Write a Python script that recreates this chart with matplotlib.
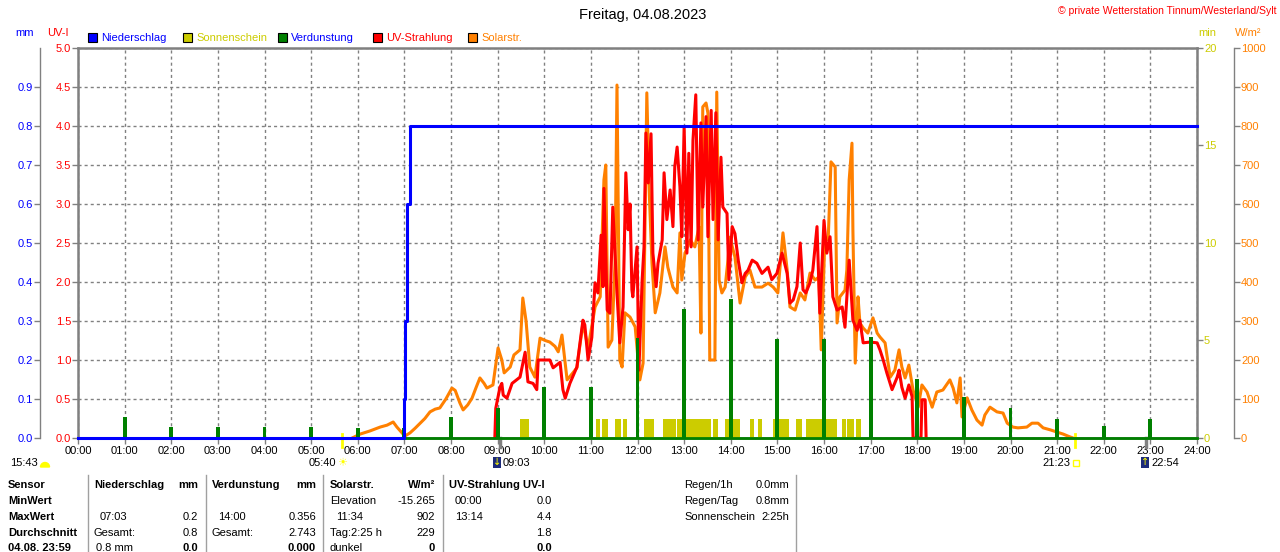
import matplotlib
matplotlib.use("Agg")
import matplotlib.pyplot as plt
from matplotlib.patches import Rectangle, Wedge

plt.rcParams['font.family'] = ['Liberation Sans', 'DejaVu Sans']

W, H = 1280, 552

# --- Solarstrahlung (W/m2), Zeit in Stunden
solar_t = [5.88, 6.05, 6.26, 6.48, 6.63, 6.76, 6.84, 6.95, 7.01, 7.12,
           7.23, 7.34, 7.44, 7.55, 7.66, 7.76, 7.89, 8.02, 8.09, 8.19,
           8.26, 8.36, 8.45, 8.54, 8.62, 8.71, 8.77, 8.90, 9.01, 9.09,
           9.14, 9.27, 9.35, 9.48, 9.54, 9.61, 9.69, 9.80, 9.91, 10.02,
           10.12, 10.23, 10.30, 10.38, 10.49, 10.60, 10.70, 10.83, 10.94, 11.09,
           11.20, 11.28, 11.32, 11.37, 11.45, 11.52, 11.56, 11.62, 11.67, 11.73,
           11.84, 11.95, 12.05, 12.12, 12.20, 12.25, 12.31, 12.38, 12.48, 12.59,
           12.65, 12.76, 12.85, 12.91, 12.95, 13.02, 13.13, 13.23, 13.32, 13.36,
           13.40, 13.47, 13.51, 13.55, 13.66, 13.70, 13.75, 13.81, 13.88, 13.94,
           13.98, 14.09, 14.20, 14.31, 14.41, 14.52, 14.67, 14.80, 14.91, 15.01,
           15.12, 15.21, 15.27, 15.38, 15.49, 15.59, 15.70, 15.81, 15.89, 15.94,
           16.02, 16.09, 16.15, 16.24, 16.28, 16.34, 16.45, 16.49, 16.54, 16.60,
           16.62, 16.67, 16.73, 16.77, 16.84, 16.94, 17.05, 17.14, 17.20, 17.31,
           17.42, 17.52, 17.61, 17.67, 17.74, 17.82, 17.91, 18.02, 18.10, 18.21,
           18.32, 18.42, 18.55, 18.70, 18.77, 18.85, 18.92, 18.96, 19.07, 19.17,
           19.28, 19.39, 19.45, 19.56, 19.71, 19.84, 19.93, 20.05, 20.16, 20.35,
           20.46, 20.59, 20.70, 20.85, 21.00, 21.13, 21.23, 21.34]
solar_w = [0, 10, 18, 28, 33, 41, 28, 13, 5, 13,
           25, 38, 50, 67, 74, 77, 100, 128, 122, 90,
           72, 85, 102, 130, 154, 140, 128, 136, 231, 200,
           167, 182, 213, 226, 359, 300, 182, 156, 256, 250,
           246, 235, 221, 264, 149, 165, 180, 295, 230, 336,
           362, 662, 700, 233, 251, 456, 905, 200, 182, 321,
           310, 285, 149, 192, 885, 636, 449, 321, 372, 490,
           438, 387, 372, 526, 405, 474, 508, 490, 541, 269,
           849, 859, 833, 200, 200, 887, 405, 372, 387, 456,
           515, 464, 346, 413, 431, 387, 387, 397, 387, 372,
           526, 431, 336, 328, 372, 354, 423, 405, 413, 226,
           515, 508, 708, 695, 295, 362, 379, 431, 662, 756,
           533, 192, 362, 295, 282, 269, 308, 269, 259, 244,
           156, 174, 226, 182, 154, 187, 123, 79, 136, 118,
           79, 118, 123, 149, 128, 90, 154, 54, 103, 72,
           46, 33, 59, 79, 67, 64, 38, 28, 26, 28,
           38, 38, 26, 21, 15, 10, 5, 0]

# --- UV-Strahlung (UV-I)
uv_t = [8.94, 8.96, 9.05, 9.09, 9.12, 9.20, 9.31, 9.48, 9.59, 9.65,
        9.76, 9.84, 9.87, 10.02, 10.12, 10.19, 10.34, 10.40, 10.45, 10.55,
        10.70, 10.83, 10.87, 10.94, 11.02, 11.09, 11.15, 11.22, 11.26, 11.28,
        11.35, 11.41, 11.47, 11.56, 11.62, 11.69, 11.75, 11.80, 11.84, 11.88,
        11.90, 11.99, 12.03, 12.10, 12.14, 12.18, 12.23, 12.29, 12.33, 12.40,
        12.44, 12.53, 12.57, 12.63, 12.70, 12.76, 12.80, 12.85, 12.91, 12.95,
        13.00, 13.06, 13.10, 13.15, 13.19, 13.25, 13.30, 13.36, 13.40, 13.47,
        13.51, 13.58, 13.62, 13.68, 13.73, 13.79, 13.83, 13.92, 13.96, 14.03,
        14.09, 14.16, 14.24, 14.31, 14.37, 14.46, 14.56, 14.67, 14.80, 14.88,
        14.99, 15.10, 15.21, 15.27, 15.34, 15.42, 15.49, 15.55, 15.61, 15.70,
        15.76, 15.85, 15.91, 16.00, 16.06, 16.13, 16.19, 16.28, 16.39, 16.45,
        16.54, 16.62, 16.71, 16.77, 16.84, 16.99, 17.14, 17.20, 17.27, 17.35,
        17.46, 17.57, 17.61, 17.67, 17.74, 17.82, 17.89, 17.91, 18.08, 18.10,
        18.17, 18.19]
uv_i = [0.0, 0.38, 0.65, 0.70, 0.55, 0.51, 0.70, 0.78, 1.10, 0.72,
        0.70, 0.62, 1.00, 1.00, 1.00, 0.90, 0.97, 0.62, 0.51, 0.70,
        0.91, 1.51, 1.45, 1.00, 1.29, 1.99, 1.86, 2.60, 1.94, 3.20,
        1.64, 1.60, 2.96, 1.86, 1.22, 1.68, 3.40, 2.67, 3.00, 1.90,
        1.81, 2.45, 0.87, 2.03, 2.45, 3.91, 3.27, 3.90, 2.37, 1.94,
        2.24, 2.54, 3.40, 2.80, 3.18, 2.71, 3.48, 3.73, 3.22, 2.58,
        3.99, 2.37, 3.65, 2.45, 3.82, 4.40, 2.54, 4.04, 2.96, 4.12,
        2.58, 4.20, 2.80, 4.17, 2.54, 3.60, 2.96, 2.88, 2.03, 2.71,
        2.62, 2.28, 1.99, 2.11, 2.15, 2.28, 2.24, 2.11, 2.19, 2.03,
        2.11, 2.37, 2.11, 1.73, 1.77, 1.94, 2.50, 1.90, 1.86, 1.99,
        2.15, 2.71, 1.60, 2.79, 2.37, 2.58, 1.81, 1.64, 1.68, 1.42,
        2.28, 1.51, 1.38, 1.51, 1.22, 1.23, 1.22, 1.13, 1.00, 0.83,
        0.62, 0.78, 0.87, 0.65, 0.51, 0.68, 0.53, 0.0, 0.0, 0.49,
        0.49, 0.0]

# --- Niederschlag kumuliert (mm)
rain_t = [0.0, 6.99, 7.01, 7.05, 7.12, 24.0]
rain_mm = [0.0, 0.1, 0.3, 0.6, 0.8, 0.8]

# --- Verdunstung je Stunde (mm)
evap_h = [1, 2, 3, 4, 5, 6, 7, 8, 9, 10, 11, 12,
          13, 14, 15, 16, 17, 18, 19, 20, 21, 22, 23]
evap_mm = [0.054, 0.028, 0.028, 0.028, 0.028, 0.026, 0.026, 0.054, 0.077, 0.13, 0.13, 0.256,
           0.33, 0.356, 0.254, 0.254, 0.26, 0.15, 0.105, 0.077, 0.05, 0.03, 0.05]

# --- Sonnenschein (Intervalle, 1 min)
sun_start = [9.48, 11.11, 11.24, 11.52, 11.69, 12.14, 12.55, 12.85, 13.62,
             13.88, 14.41, 14.58, 14.91, 15.40, 15.61, 16.39, 16.49, 16.69]
sun_end = [9.67, 11.20, 11.37, 11.65, 11.78, 12.35, 12.83, 13.58, 13.73,
           14.20, 14.50, 14.67, 15.25, 15.53, 16.28, 16.47, 16.64, 16.79]
sun_min = 1

sunrise, sunset = 5 + 40 / 60, 21 + 23 / 60
moonrise, moonset = 9 + 3 / 60, 22 + 54 / 60

hours = list(range(25))
hour_labels = ['%02d:00' % h for h in hours]
uv_ticks = [i * 0.5 for i in range(11)]
mm_ticks = [i / 10 for i in range(10)]
min_ticks = [0, 5, 10, 15, 20]
w_ticks = list(range(0, 1001, 100))

legend_items = [('Niederschlag', '#0000FF', '#0000FF'),
                ('Sonnenschein', '#CCCC00', '#CCCC00'),
                ('Verdunstung', '#008000', '#0000FF'),
                ('UV-Strahlung', '#FF0000', '#FF0000'),
                ('Solarstr.', '#FF8000', '#FF8000')]

# table: (x, row, text, ha, bold)
table = [
    (8, 0, 'Sensor', 'left', True), (8, 1, 'MinWert', 'left', True),
    (8, 2, 'MaxWert', 'left', True), (8, 3, 'Durchschnitt', 'left', True),
    (8, 4, '04.08. 23:59', 'left', True),
    (94, 0, 'Niederschlag', 'left', True), (198, 0, 'mm', 'right', True),
    (100, 2, '07:03', 'left', False), (198, 2, '0.2', 'right', False),
    (94, 3, 'Gesamt:', 'left', False), (198, 3, '0.8', 'right', False),
    (96, 4, '0.8 mm', 'left', False), (198, 4, '0.0', 'right', True),
    (212, 0, 'Verdunstung', 'left', True), (316, 0, 'mm', 'right', True),
    (218, 2, '14:00', 'left', False), (316, 2, '0.356', 'right', False),
    (212, 3, 'Gesamt:', 'left', False), (316, 3, '2.743', 'right', False),
    (316, 4, '0.000', 'right', True),
    (330, 0, 'Solarstr.', 'left', True), (435, 0, 'W/m²', 'right', True),
    (330, 1, 'Elevation', 'left', False), (435, 1, '-15.265', 'right', False),
    (336, 2, '11:34', 'left', False), (435, 2, '902', 'right', False),
    (330, 3, 'Tag:2:25 h', 'left', False), (435, 3, '229', 'right', False),
    (330, 4, 'dunkel', 'left', False), (435, 4, '0', 'right', True),
    (449, 0, 'UV-Strahlung UV-I', 'left', True),
    (455, 1, '00:00', 'left', False), (552, 1, '0.0', 'right', False),
    (455, 2, '13:14', 'left', False), (552, 2, '4.4', 'right', False),
    (552, 3, '1.8', 'right', False), (552, 4, '0.0', 'right', True),
    (684, 0, 'Regen/1h', 'left', False), (789, 0, '0.0mm', 'right', False),
    (684, 1, 'Regen/Tag', 'left', False), (789, 1, '0.8mm', 'right', False),
    (684, 2, 'Sonnenschein', 'left', False), (789, 2, '2:25h', 'right', False),
]
row_y = [485, 501, 517, 533, 548]
separators = [88, 206, 323, 443, 796]

GRAY = '#808080'
FS = 8

fig = plt.figure(figsize=(W / 100, H / 100), dpi=100)
ax = fig.add_axes([78 / W, (H - 438) / H, 1119 / W, 390 / H])
ax_uv = ax.twinx()
ax_min = ax.twinx()
ax_mm = ax.twinx()

ax.set_xlim(0, 24)
ax.set_ylim(0, 1000)
ax_uv.set_ylim(0, 5)
ax_min.set_ylim(0, 20)
ax_mm.set_ylim(0, 1)

# base axis: solar, outer right scale
ax.yaxis.tick_right()
ax.set_yticks(w_ticks)
ax.set_yticklabels([str(v) for v in w_ticks])
ax.spines['right'].set_position(('axes', 1156 / 1119))
ax.spines['right'].set_color(GRAY)
ax.spines['right'].set_linewidth(1)
for s in ['left', 'top', 'bottom']:
    ax.spines[s].set_color(GRAY)
    ax.spines[s].set_linewidth(1.8)
ax.tick_params(axis='y', colors=GRAY, labelcolor='#FF8000', labelsize=FS,
               length=4, width=1, pad=1)
ax.set_xticks(hours)
ax.set_xticklabels(hour_labels)
ax.tick_params(axis='x', colors=GRAY, labelcolor='black', labelsize=FS,
               length=4, width=1, pad=2)
ax.grid(True, color=GRAY, linestyle=(0, (2.2, 2.2)), linewidth=1)

ax_uv.yaxis.tick_left()
ax_uv.set_yticks(uv_ticks)
ax_uv.set_yticklabels(['%.1f' % v for v in uv_ticks])
ax_uv.tick_params(axis='y', colors=GRAY, labelcolor='#FF0000', labelsize=FS,
                  length=4, width=1, pad=1)

ax_min.set_yticks(min_ticks)
ax_min.set_yticklabels([str(v) for v in min_ticks])
ax_min.tick_params(axis='y', colors=GRAY, labelcolor='#CCCC00', labelsize=FS,
                   length=4, width=1, pad=1)

ax_mm.yaxis.tick_left()
ax_mm.set_yticks(mm_ticks)
ax_mm.set_yticklabels(['%.1f' % v for v in mm_ticks])
ax_mm.tick_params(axis='y', colors=GRAY, labelcolor='#0000FF', labelsize=FS,
                  length=4, width=1, pad=1)

for a in (ax_uv, ax_min, ax_mm):
    for s in a.spines.values():
        s.set_visible(False)
ax_min.spines['right'].set_visible(True)
ax_min.spines['right'].set_color(GRAY)
ax_min.spines['right'].set_linewidth(1.8)
ax_mm.spines['left'].set_visible(True)
ax_mm.spines['left'].set_position(('axes', -38 / 1119))
ax_mm.spines['left'].set_color(GRAY)
ax_mm.spines['left'].set_linewidth(1)

# series
ax.plot(solar_t, solar_w, color='#FF8000', lw=2.2)
ax_uv.plot(uv_t, uv_i, color='#FF0000', lw=2.2)
ax_min.bar(sun_start, [sun_min] * len(sun_start),
           width=[e - s for s, e in zip(sun_start, sun_end)],
           align='edge', color='#CCCC00', linewidth=0)
ax_mm.axhline(0, color='#008000', lw=2, clip_on=False)
ax_mm.bar(evap_h, evap_mm, width=0.085, color='#008000', linewidth=0)
ax_mm.plot(rain_t, rain_mm, drawstyle='steps-post', color='#0000FF', lw=2.2,
           clip_on=False)

# sun / moon markers under the axis
xt = ax.get_xaxis_transform()
for t in (sunrise, sunset):
    ax.plot([t, t], [-0.022, 0.01], color='#FFFF00', lw=2, transform=xt, clip_on=False)
for t in (moonrise, moonset):
    ax.plot([t, t], [-0.022, 0.0], color=GRAY, lw=2.5, transform=xt, clip_on=False)

# overlay in pixel coordinates
ov = fig.add_axes([0, 0, 1, 1])
ov.set_xlim(0, W)
ov.set_ylim(H, 0)
ov.axis('off')

ov.text(643, 15, 'Freitag, 04.08.2023', ha='center', va='center', fontsize=10.5)
ov.text(1276, 11, '© private Wetterstation Tinnum/Westerland/Sylt', ha='right',
        va='center', fontsize=7.5, color='#FF0000')
ov.text(15, 33, 'mm', color='#0000FF', fontsize=FS, va='center')
ov.text(47, 33, 'UV-I', color='#FF0000', fontsize=FS, va='center')
ov.text(1198, 33, 'min', color='#CCCC00', fontsize=FS, va='center')
ov.text(1235, 33, 'W/m²', color='#FF8000', fontsize=FS, va='center')

lx = [88, 183, 278, 373, 468]
for x0, (lab, face, tc) in zip(lx, legend_items):
    ov.add_patch(Rectangle((x0, 33), 9, 9, facecolor=face, edgecolor='black', lw=0.8))
    ov.text(x0 + 13, 38, lab, color=tc, fontsize=FS, va='center')

# day length, sunrise/sunset, moon rise/set
ov.text(10, 463, '15:43', fontsize=FS, va='center')
ov.add_patch(Wedge((45, 467), 4.5, 180, 360, color='#FFFF00'))
ov.text(336, 463, '05:40', fontsize=FS, va='center', ha='right')
ov.text(342, 463, '\u2600', fontsize=8, va='center', ha='center',
        color='#FFFF00', family='DejaVu Sans')
ov.add_patch(Rectangle((493, 457), 8, 11, facecolor='#1C2A7A', edgecolor='none'))
ov.text(497, 462, '\u2193', fontsize=7, va='center', ha='center',
        color='#FFFF00', family='DejaVu Sans')
ov.text(503, 463, '09:03', fontsize=FS, va='center')
ov.text(1070, 463, '21:23', fontsize=FS, va='center', ha='right')
ov.add_patch(Rectangle((1073, 460), 6, 6, facecolor='none', edgecolor='#FFFF00', lw=1))
ov.add_patch(Rectangle((1141, 457), 8, 11, facecolor='#1C2A7A', edgecolor='none'))
ov.text(1145, 462, '\u2191', fontsize=7, va='center', ha='center',
        color='#FFFF00', family='DejaVu Sans')
ov.text(1151, 463, '22:54', fontsize=FS, va='center')

for x, r, txt, ha, bold in table:
    ov.text(x, row_y[r], txt, ha=ha, va='center', fontsize=FS,
            fontweight='bold' if bold else 'normal')
for x in separators:
    ov.plot([x, x], [475, H], color='#A0A0A0', lw=1)

fig.savefig('out.png', dpi=100)
